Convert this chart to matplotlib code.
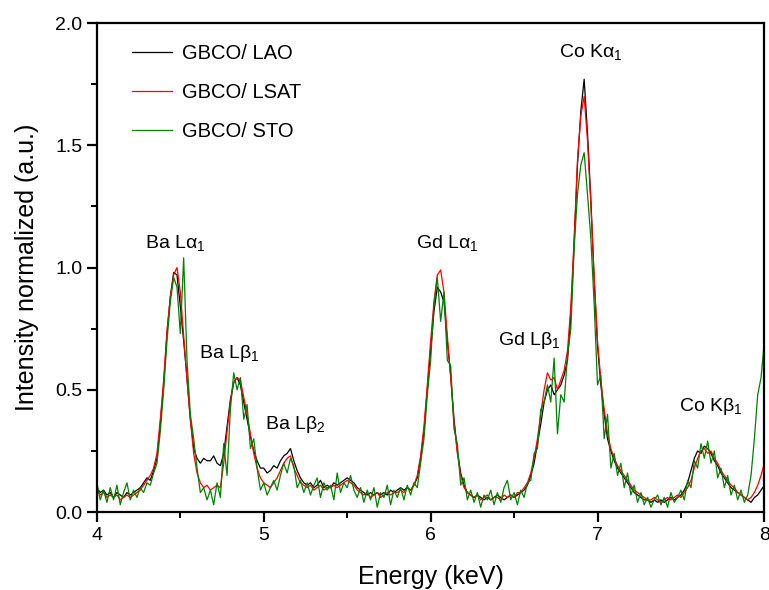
import numpy as np
import matplotlib
matplotlib.use('Agg')
import matplotlib.pyplot as plt
from matplotlib.ticker import MultipleLocator

# energy channels (keV), one value every 0.02 keV from 4 to 8
energy = np.round(np.arange(4.0, 8.001, 0.02), 2)

# GBCO/ LAO, rows of 0.2 keV
lao = [0.10, 0.08, 0.09, 0.07, 0.08, 0.06, 0.08, 0.07, 0.06, 0.08,
       0.07, 0.08, 0.09, 0.10, 0.12, 0.14, 0.13, 0.17, 0.22, 0.36,
       0.52, 0.73, 0.88, 0.98, 0.97, 0.84, 0.70, 0.55, 0.38, 0.26,
       0.22, 0.20, 0.22, 0.21, 0.21, 0.23, 0.20, 0.19, 0.24, 0.35,
       0.46, 0.53, 0.55, 0.52, 0.45, 0.38, 0.31, 0.25, 0.21, 0.18,
       0.18, 0.16, 0.17, 0.19, 0.18, 0.21, 0.23, 0.24, 0.26, 0.21,
       0.17, 0.14, 0.12, 0.11, 0.12, 0.10, 0.11, 0.13, 0.10, 0.11,
       0.10, 0.12, 0.11, 0.12, 0.13, 0.14, 0.13, 0.12, 0.10, 0.09,
       0.08, 0.07, 0.08, 0.07, 0.08, 0.07, 0.08, 0.07, 0.09, 0.08,
       0.09, 0.10, 0.09, 0.10, 0.09, 0.11, 0.14, 0.22, 0.33, 0.50,
       0.66, 0.82, 0.92, 0.90, 0.86, 0.70, 0.56, 0.38, 0.25, 0.16,
       0.11, 0.08, 0.07, 0.06, 0.07, 0.06, 0.05, 0.06, 0.05, 0.06,
       0.07, 0.06, 0.05, 0.06, 0.07, 0.06, 0.07, 0.08, 0.09, 0.11,
       0.15, 0.20, 0.28, 0.36, 0.45, 0.50, 0.52, 0.48, 0.50, 0.52,
       0.56, 0.62, 0.80, 1.10, 1.42, 1.64, 1.77, 1.55, 1.28, 0.95,
       0.68, 0.52, 0.40, 0.30, 0.25, 0.21, 0.18, 0.16, 0.14, 0.12,
       0.10, 0.08, 0.07, 0.06, 0.05, 0.05, 0.04, 0.05, 0.04, 0.05,
       0.04, 0.05, 0.06, 0.05, 0.06, 0.07, 0.09, 0.12, 0.17, 0.22,
       0.25, 0.24, 0.27, 0.26, 0.24, 0.21, 0.19, 0.16, 0.14, 0.12,
       0.10, 0.09, 0.08, 0.07, 0.06, 0.05, 0.04, 0.06, 0.07, 0.09,
       0.11]

# GBCO/ LSAT
lsat = [0.09, 0.07, 0.08, 0.06, 0.07, 0.06, 0.07, 0.05, 0.06, 0.07,
        0.06, 0.07, 0.08, 0.09, 0.11, 0.13, 0.15, 0.18, 0.24, 0.38,
        0.54, 0.74, 0.88, 0.97, 1.00, 0.90, 0.72, 0.54, 0.38, 0.24,
        0.16, 0.12, 0.10, 0.11, 0.09, 0.10, 0.11, 0.10, 0.20, 0.33,
        0.45, 0.53, 0.55, 0.54, 0.47, 0.40, 0.32, 0.24, 0.18, 0.14,
        0.12, 0.11, 0.10, 0.12, 0.14, 0.17, 0.20, 0.22, 0.23, 0.18,
        0.15, 0.12, 0.11, 0.10, 0.11, 0.09, 0.10, 0.11, 0.09, 0.10,
        0.10, 0.11, 0.10, 0.11, 0.12, 0.13, 0.12, 0.11, 0.09, 0.08,
        0.07, 0.08, 0.06, 0.07, 0.08, 0.06, 0.07, 0.08, 0.07, 0.08,
        0.08, 0.09, 0.08, 0.10, 0.09, 0.11, 0.15, 0.23, 0.35, 0.52,
        0.70, 0.86, 0.97, 0.99, 0.90, 0.72, 0.55, 0.37, 0.24, 0.15,
        0.10, 0.08, 0.07, 0.06, 0.07, 0.05, 0.06, 0.07, 0.05, 0.06,
        0.06, 0.05, 0.07, 0.06, 0.07, 0.06, 0.08, 0.08, 0.10, 0.12,
        0.16, 0.22, 0.30, 0.40, 0.50, 0.57, 0.54, 0.55, 0.50, 0.54,
        0.58, 0.66, 0.84, 1.12, 1.44, 1.62, 1.70, 1.52, 1.26, 0.96,
        0.70, 0.54, 0.42, 0.32, 0.26, 0.22, 0.19, 0.17, 0.15, 0.13,
        0.11, 0.09, 0.08, 0.07, 0.06, 0.05, 0.05, 0.06, 0.05, 0.04,
        0.05, 0.06, 0.05, 0.06, 0.07, 0.06, 0.08, 0.10, 0.13, 0.18,
        0.22, 0.25, 0.26, 0.24, 0.25, 0.22, 0.20, 0.17, 0.15, 0.13,
        0.11, 0.10, 0.08, 0.07, 0.06, 0.05, 0.06, 0.08, 0.11, 0.15,
        0.20]

# GBCO/ STO
sto = [0.12, 0.05, 0.09, 0.04, 0.10, 0.05, 0.11, 0.03, 0.08, 0.12,
       0.05, 0.09, 0.06, 0.10, 0.08, 0.12, 0.11, 0.16, 0.20, 0.33,
       0.50, 0.70, 0.86, 0.96, 0.92, 0.73, 1.04, 0.62, 0.40, 0.30,
       0.18, 0.08, 0.10, 0.05, 0.09, 0.03, 0.12, 0.06, 0.28, 0.15,
       0.42, 0.57, 0.50, 0.55, 0.38, 0.44, 0.26, 0.30, 0.18, 0.09,
       0.12, 0.07, 0.10, 0.13, 0.09, 0.15, 0.20, 0.16, 0.22, 0.19,
       0.10, 0.13, 0.08, 0.12, 0.07, 0.11, 0.14, 0.06, 0.12, 0.09,
       0.11, 0.05, 0.16, 0.08, 0.12, 0.10, 0.15, 0.09, 0.06, 0.10,
       0.04, 0.09, 0.05, 0.10, 0.02, 0.08, 0.06, 0.11, 0.03, 0.09,
       0.06, 0.10, 0.05, 0.11, 0.07, 0.12, 0.10, 0.20, 0.30, 0.48,
       0.62, 0.85, 0.96, 0.78, 0.90, 0.62, 0.60, 0.34, 0.28, 0.11,
       0.14, 0.05, 0.09, 0.04, 0.08, 0.02, 0.07, 0.05, 0.09, 0.03,
       0.08, 0.04, 0.10, 0.13, 0.05, 0.08, 0.03, 0.09, 0.06, 0.12,
       0.13, 0.24, 0.26, 0.42, 0.45, 0.52, 0.45, 0.63, 0.32, 0.48,
       0.45, 0.64, 0.75, 1.08, 1.30, 1.42, 1.47, 1.30, 1.12, 0.85,
       0.52, 0.56, 0.30, 0.40, 0.18, 0.24, 0.15, 0.20, 0.10, 0.16,
       0.07, 0.11, 0.04, 0.08, 0.03, 0.06, 0.02, 0.05, 0.07, 0.03,
       0.06, 0.02, 0.08, 0.04, 0.06, 0.09, 0.05, 0.13, 0.10, 0.21,
       0.18, 0.28, 0.22, 0.29, 0.20, 0.25, 0.14, 0.18, 0.10, 0.15,
       0.07, 0.11, 0.05, 0.09, 0.04, 0.07, 0.15, 0.30, 0.48, 0.55,
       0.70]

series_names = ['GBCO/ LAO', 'GBCO/ LSAT', 'GBCO/ STO']
series_colors = ['black', 'red', 'green']

# peak labels: (text, energy, height)
peak_labels = [r'Ba L$\alpha_1$', r'Ba L$\beta_1$', r'Ba L$\beta_2$',
               r'Gd L$\alpha_1$', r'Gd L$\beta_1$', r'Co K$\alpha_1$', r'Co K$\beta_1$']
peak_x = [4.47, 4.79, 5.19, 6.10, 6.59, 6.96, 7.68]
peak_y = [1.10, 0.65, 0.36, 1.10, 0.70, 1.88, 0.43]

plt.rcParams['font.family'] = ['Liberation Sans', 'DejaVu Sans']
plt.rcParams['mathtext.fontset'] = 'custom'
plt.rcParams['mathtext.rm'] = 'Liberation Sans'
plt.rcParams['mathtext.it'] = 'Liberation Sans'
plt.rcParams['mathtext.default'] = 'regular'

fig = plt.figure(figsize=(7.69, 5.90), dpi=100)
ax = fig.add_axes([0.126, 0.132, 0.868, 0.829])

for vals, name, col in zip([lao, lsat, sto], series_names, series_colors):
    ax.plot(energy, vals, color=col, lw=0.9, label=name)

for txt, px, py in zip(peak_labels, peak_x, peak_y):
    ax.text(px, py, txt, ha='center', va='center', fontsize=14)

ax.set_xlim(4, 8)
ax.set_ylim(0, 2.0)
ax.xaxis.set_major_locator(MultipleLocator(1))
ax.xaxis.set_minor_locator(MultipleLocator(0.5))
ax.yaxis.set_major_locator(MultipleLocator(0.5))
ax.yaxis.set_minor_locator(MultipleLocator(0.25))
ax.yaxis.set_major_formatter(matplotlib.ticker.FormatStrFormatter('%.1f'))
ax.tick_params(which='major', direction='out', length=7, width=1.6, labelsize=14)
ax.tick_params(which='minor', direction='out', length=4, width=1.4)
for s in ax.spines.values():
    s.set_linewidth(1.6)

ax.set_xlabel('Energy (keV)', fontsize=18, labelpad=15)
ax.set_ylabel('Intensity normalized (a.u.)', fontsize=18, labelpad=12)

ax.legend(loc='upper left', bbox_to_anchor=(0.025, 0.995), frameon=False,
          fontsize=14.5, handlelength=2.0, handletextpad=0.5, labelspacing=1.0)

fig.savefig('out.png', dpi=100)
